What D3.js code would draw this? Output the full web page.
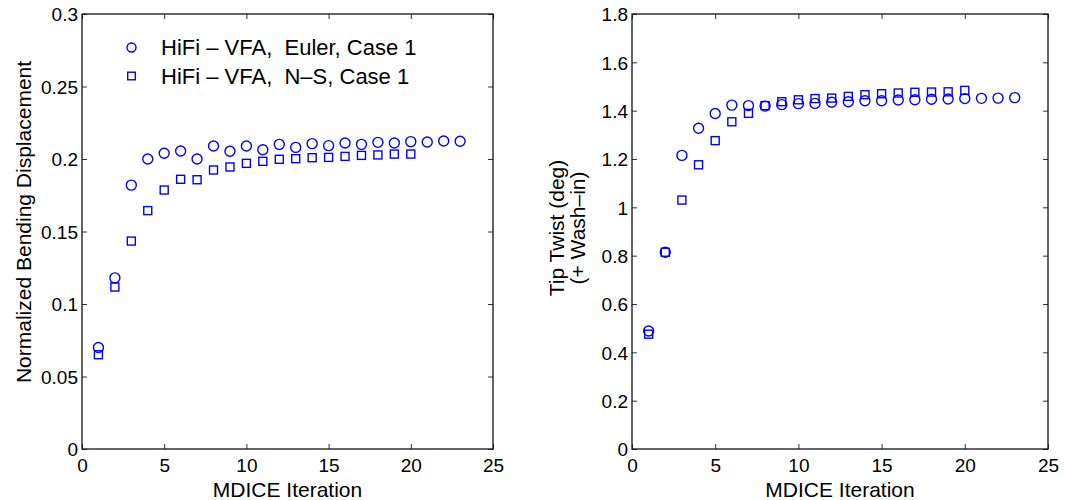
<!DOCTYPE html>
<html>
<head>
<meta charset="utf-8">
<script src="https://cdn.jsdelivr.net/npm/d3@7"></script>
<style>
  html, body { margin: 0; padding: 0; background: #fff; }
  svg { display: block; font-family: "Liberation Sans", Arial, Helvetica, sans-serif; }
  text { white-space: pre; }
</style>
</head>
<body>
<svg id="chart" width="1065" height="500"></svg>
<script>
// ---------- data ----------
const iterations = d3.range(1, 24);           // 1..23
const iterationsNS = d3.range(1, 21);         // 1..20

const bendEuler = [0.070, 0.118, 0.182, 0.200, 0.204, 0.2055, 0.200, 0.209, 0.2053, 0.209, 0.2064, 0.2101,
                   0.208, 0.2106, 0.2092, 0.211, 0.2101, 0.2115, 0.211, 0.212, 0.2117, 0.2124, 0.2122];
const bendNS    = [0.065, 0.1117, 0.1434, 0.1644, 0.1786, 0.186, 0.1857, 0.1924, 0.1945, 0.197, 0.1984,
                   0.1998, 0.2002, 0.2009, 0.2011, 0.2018, 0.2025, 0.2028, 0.2034, 0.2034];

const twistEuler = [0.488, 0.814, 1.215, 1.327, 1.388, 1.423, 1.421, 1.419, 1.425, 1.429, 1.430, 1.435,
                    1.437, 1.441, 1.441, 1.444, 1.445, 1.447, 1.448, 1.450, 1.451, 1.452, 1.454];
const twistNS    = [0.475, 0.814, 1.030, 1.176, 1.276, 1.354, 1.389, 1.421, 1.437, 1.445, 1.450, 1.452,
                    1.459, 1.466, 1.470, 1.473, 1.476, 1.477, 1.478, 1.484];

const xTicks = [0, 5, 10, 15, 20, 25];
const yTicksLeft = [0, 0.05, 0.1, 0.15, 0.2, 0.25, 0.3];
const yTickLabelsLeft = ["0", "0.05", "0.1", "0.15", "0.2", "0.25", "0.3"];
const yTicksRight = [0, 0.2, 0.4, 0.6, 0.8, 1, 1.2, 1.4, 1.6, 1.8];
const yTickLabelsRight = ["0", "0.2", "0.4", "0.6", "0.8", "1", "1.2", "1.4", "1.6", "1.8"];

const legendLabels = ["HiFi \u2013 VFA,  Euler, Case 1", "HiFi \u2013 VFA,  N\u2013S, Case 1"];
const xLabel = "MDICE Iteration";
const yLabelLeft = ["Normalized Bending Displacement"];
const yLabelRight = ["Tip Twist (deg)", "(+ Wash\u2013in)"];

// ---------- drawing ----------
const svg = d3.select("#chart");
const BLUE = "#0000ff";
const TICK_FS = 19, LABEL_FS = 21, LEG_FS = 22;

function panel(cfg) {
  const g = svg.append("g");
  const x = d3.scaleLinear().domain([0, 25]).range([cfg.x0, cfg.x1]);
  const y = d3.scaleLinear().domain(cfg.yDomain).range([cfg.y1, cfg.y0]);

  // ticks (inside, mirrored on all sides)
  const tl = 5;
  const axB = d3.axisBottom(x).tickValues(xTicks).tickSizeInner(-tl).tickSizeOuter(0).tickFormat(d => d);
  const axT = d3.axisTop(x).tickValues(xTicks).tickSizeInner(-tl).tickSizeOuter(0).tickFormat("");
  const axL = d3.axisLeft(y).tickValues(cfg.yTicks).tickSizeInner(-tl).tickSizeOuter(0)
                .tickFormat((d, i) => cfg.yTickLabels[i]);
  const axR = d3.axisRight(y).tickValues(cfg.yTicks).tickSizeInner(-tl).tickSizeOuter(0).tickFormat("");

  const gb = g.append("g").attr("transform", `translate(0,${cfg.y1})`).call(axB);
  const gt = g.append("g").attr("transform", `translate(0,${cfg.y0})`).call(axT);
  const gl = g.append("g").attr("transform", `translate(${cfg.x0},0)`).call(axL);
  const gr = g.append("g").attr("transform", `translate(${cfg.x1},0)`).call(axR);
  [gb, gt, gl, gr].forEach(a => {
    a.select(".domain").remove();
    a.selectAll(".tick line").attr("stroke", "#333").attr("stroke-width", 1);
    a.selectAll("text").attr("fill", "#000").attr("font-size", TICK_FS)
      .attr("font-family", "Liberation Sans, Arial, sans-serif");
  });
  gb.selectAll(".tick text").attr("dy", null).attr("y", 23);
  gl.selectAll(".tick text").attr("x", -4).attr("dy", "0.36em");
  // frame
  g.append("rect").attr("x", cfg.x0).attr("y", cfg.y0)
    .attr("width", cfg.x1 - cfg.x0).attr("height", cfg.y1 - cfg.y0)
    .attr("fill", "none").attr("stroke", "#111").attr("stroke-width", 1.3);

  // markers
  g.selectAll("circle.e").data(cfg.euler).join("circle").attr("class", "e")
    .attr("cx", (d, i) => x(iterations[i])).attr("cy", d => y(d)).attr("r", 5)
    .attr("fill", "none").attr("stroke", BLUE).attr("stroke-width", 1.4);
  const s = 8;
  g.selectAll("rect.n").data(cfg.ns).join("rect").attr("class", "n")
    .attr("x", (d, i) => x(iterationsNS[i]) - s / 2).attr("y", d => y(d) - s / 2)
    .attr("width", s).attr("height", s)
    .attr("fill", "none").attr("stroke", BLUE).attr("stroke-width", 1.4);

  // x label
  g.append("text").attr("x", (cfg.x0 + cfg.x1) / 2).attr("y", 497)
    .attr("text-anchor", "middle").attr("font-size", LABEL_FS).text(xLabel);

  // y label (possibly multiline)
  const yl = g.append("text").attr("transform", `translate(${cfg.ylx},${cfg.yly}) rotate(-90)`)
    .attr("text-anchor", "middle").attr("font-size", LABEL_FS);
  cfg.yLabel.forEach((t, i) => {
    yl.append("tspan").attr("x", 0).attr("y", i * 21).text(t);
  });
  return { g, x, y };
}

const L = panel({ x0: 82, x1: 493, y0: 14, y1: 449, yDomain: [0, 0.3],
  yTicks: yTicksLeft, yTickLabels: yTickLabelsLeft, euler: bendEuler, ns: bendNS,
  yLabel: yLabelLeft, ylx: 31, yly: 222 });
const R = panel({ x0: 632, x1: 1048, y0: 14, y1: 449, yDomain: [0, 1.8],
  yTicks: yTicksRight, yTickLabels: yTickLabelsRight, euler: twistEuler, ns: twistNS,
  yLabel: yLabelRight, ylx: 564, yly: 228 });

// legend (left panel)
const leg = svg.append("g");
leg.append("circle").attr("cx", 131.5).attr("cy", 47.5).attr("r", 4.5)
  .attr("fill", "none").attr("stroke", BLUE).attr("stroke-width", 1.4);
leg.append("rect").attr("x", 131.5 - 3.8).attr("y", 76 - 3.8).attr("width", 7.6).attr("height", 7.6)
  .attr("fill", "none").attr("stroke", BLUE).attr("stroke-width", 1.4);
legendLabels.forEach((t, i) => {
  leg.append("text").attr("x", 161).attr("y", 55 + i * 29).attr("font-size", LEG_FS)
    .attr("fill", "#000").text(t);
});
</script>
</body>
</html>
